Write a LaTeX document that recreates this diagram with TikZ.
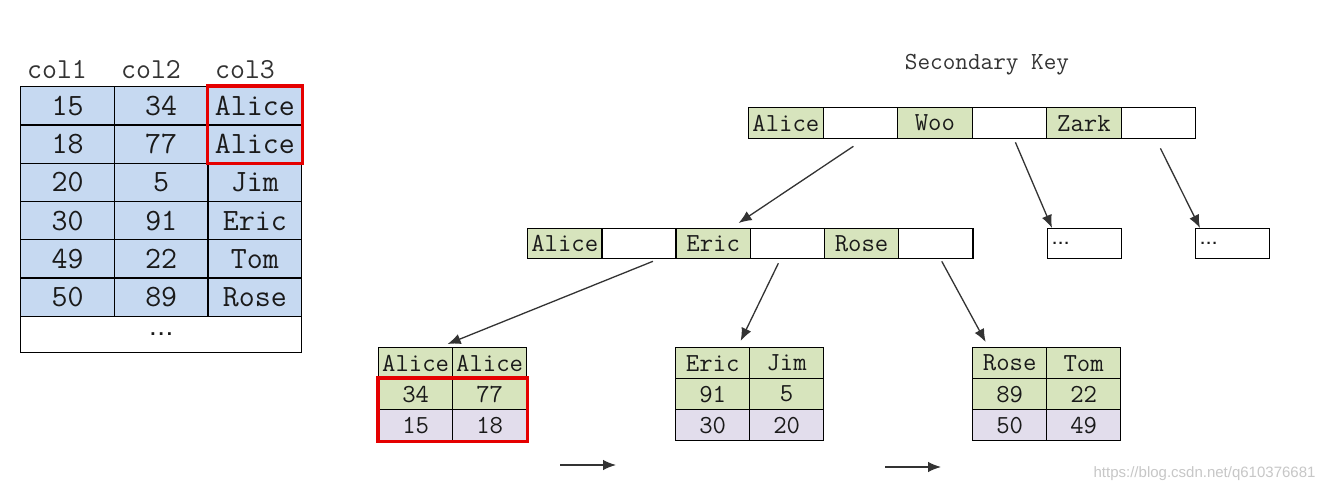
\documentclass[tikz,border=0pt]{standalone}
\usepackage{fontspec}
\setmainfont{Latin Modern Mono}
\newfontfamily\wmfont{Liberation Sans}
\newfontfamily\dotfont{Liberation Sans Bold}
\newcommand{\mydots}[1]{{.}\kern#1{.}\kern#1{.}}
\usetikzlibrary{arrows.meta,calc}
\definecolor{tblue}{HTML}{C6D9F1}
\definecolor{tgreen}{HTML}{D7E4BD}
\definecolor{tpurple}{HTML}{E2DDEC}
\definecolor{lnk}{HTML}{333333}
\definecolor{txt}{HTML}{1A1A1A}
\begin{document}
\begin{tikzpicture}[x=1pt,y=-1pt,
  cellbase/.style={draw=black, line width=1.3pt, inner sep=0pt, anchor=north west, text=txt},
  tcell/.style={cellbase, fill=tblue, minimum width=93.7pt, minimum height=38.3pt, font=\fontsize{31}{34}\selectfont},
  kcell/.style={cellbase, minimum width=74.5pt, minimum height=31pt, font=\fontsize{26}{28}\selectfont},
  lcell/.style={cellbase, minimum width=74pt, minimum height=31pt, font=\fontsize{26}{28}\selectfont},
  dotbox/.style={cellbase, minimum height=30pt, text width=64pt, inner xsep=5pt, align=left, font=\dotfont\fontsize{15}{17}\selectfont},
  hdr/.style={font=\fontsize{29}{31}\selectfont, text=lnk},
  redbox/.style={draw=red!90!black, line width=3.2pt},
  arr/.style={draw=lnk, line width=1.3pt, -{Latex[length=13pt,width=10.5pt]}}
]
\fill[white] (0,0) rectangle (1326,494);
\useasboundingbox (0,0) rectangle (1326,494);

% ---------- left table ----------
\node[hdr] (h1) at (57,70) {col1};
\node[hdr] (h2) at (151,70) {col2};
\node[hdr] (h3) at (245,70) {col3};
\foreach \a/\b/\c [count=\i] in {15/34/Alice,18/77/Alice,20/5/Jim,30/91/Eric,49/22/Tom,50/89/Rose}{
  \node[tcell] (ta\i) at (20,{86+(\i-1)*38.3}) {\a};
  \node[tcell] (tb\i) at (113.7,{86+(\i-1)*38.3}) {\b};
  \node[tcell] (tc\i) at (207.4,{86+(\i-1)*38.3}) {\c};
}
\node[cellbase, minimum width=281.1pt, minimum height=36pt, font=\dotfont\fontsize{19}{21}\selectfont] (tdots) at (20,315.8) {\mydots{3pt}};
\draw[redbox] (tc1.north west) rectangle (tc2.south east);

% ---------- secondary key title ----------
\node[font=\fontsize{24.5}{26}\selectfont, text=lnk] (title) at (987,65) {Secondary Key};

% ---------- root row ----------
\node[kcell, fill=tgreen] (r1c1) at (748,107) {Alice};
\node[kcell, fill=white]  (r1c2) at (822.5,107) {};
\node[kcell, fill=tgreen] (r1c3) at (897,107) {Woo};
\node[kcell, fill=white]  (r1c4) at (971.5,107) {};
\node[kcell, fill=tgreen] (r1c5) at (1046,107) {Zark};
\node[kcell, fill=white]  (r1c6) at (1120.5,107) {};

% ---------- second row ----------
\node[kcell, fill=tgreen, minimum width=74.2pt, minimum height=30pt] (r2c1) at (527,228) {Alice};
\node[kcell, fill=white,  minimum width=74.2pt, minimum height=30pt] (r2c2) at (601.2,228) {};
\node[kcell, fill=tgreen, minimum width=74.2pt, minimum height=30pt] (r2c3) at (675.4,228) {Eric};
\node[kcell, fill=white,  minimum width=74.2pt, minimum height=30pt] (r2c4) at (749.6,228) {};
\node[kcell, fill=tgreen, minimum width=74.2pt, minimum height=30pt] (r2c5) at (823.8,228) {Rose};
\node[kcell, fill=white,  minimum width=74.2pt, minimum height=30pt] (r2c6) at (898,228) {};
\node[dotbox, fill=white] (dots1) at (1047,228) {\mydots{1.8pt}};
\node[dotbox, fill=white] (dots2) at (1195,228) {\mydots{1.8pt}};

% ---------- leaves ----------
\node[lcell, fill=tgreen]  (L1a) at (378,347) {Alice};
\node[lcell, fill=tgreen]  (L1b) at (452,347) {Alice};
\node[lcell, fill=tgreen]  (L2a) at (378,378) {34};
\node[lcell, fill=tgreen]  (L2b) at (452,378) {77};
\node[lcell, fill=tpurple] (L3a) at (378,409) {15};
\node[lcell, fill=tpurple] (L3b) at (452,409) {18};
\draw[redbox] (L2a.north west) rectangle (L3b.south east);

\node[lcell, fill=tgreen]  (M1a) at (675,347) {Eric};
\node[lcell, fill=tgreen]  (M1b) at (749,347) {Jim};
\node[lcell, fill=tgreen]  (M2a) at (675,378) {91};
\node[lcell, fill=tgreen]  (M2b) at (749,378) {5};
\node[lcell, fill=tpurple] (M3a) at (675,409) {30};
\node[lcell, fill=tpurple] (M3b) at (749,409) {20};

\node[lcell, fill=tgreen]  (R1a) at (972,347) {Rose};
\node[lcell, fill=tgreen]  (R1b) at (1046,347) {Tom};
\node[lcell, fill=tgreen]  (R2a) at (972,378) {89};
\node[lcell, fill=tgreen]  (R2b) at (1046,378) {22};
\node[lcell, fill=tpurple] (R3a) at (972,409) {50};
\node[lcell, fill=tpurple] (R3b) at (1046,409) {49};

% ---------- connectors ----------
\draw[arr] ($(r1c2.south)+(-7,7)$) -- ($(r2c3.north)+(25.5,-5)$);
\draw[arr] ($(r1c4.south)+(6,3)$) -- ($(dots1.north west)+(5,0)$);
\draw[arr] ($(r1c6.south)+(2,9)$) -- ($(dots2.north west)+(5,0)$);
\draw[arr] ($(r2c2.south)+(14,2)$) -- ($(L1a.north)+(32,-3)$);
\draw[arr] ($(r2c4.south)+(-9,4)$) -- ($(M1a.north)+(28,-6)$);
\draw[arr] ($(r2c6.south)+(6,2)$) -- ($(R1a.north)+(-24,-5)$);

\coordinate (c1s) at (560,465);
\coordinate (c1e) at (616,465);
\coordinate (c2s) at (885,467);
\coordinate (c2e) at (941,467);
\draw[arr] (c1s) -- (c1e);
\draw[arr] (c2s) -- (c2e);

% ---------- watermark ----------
\node[anchor=east, font=\wmfont\fontsize{15}{17}\selectfont, text=black!22] (wm) at (1319,474) {https://blog.csdn.net/q610376681};
\end{tikzpicture}
\end{document}
